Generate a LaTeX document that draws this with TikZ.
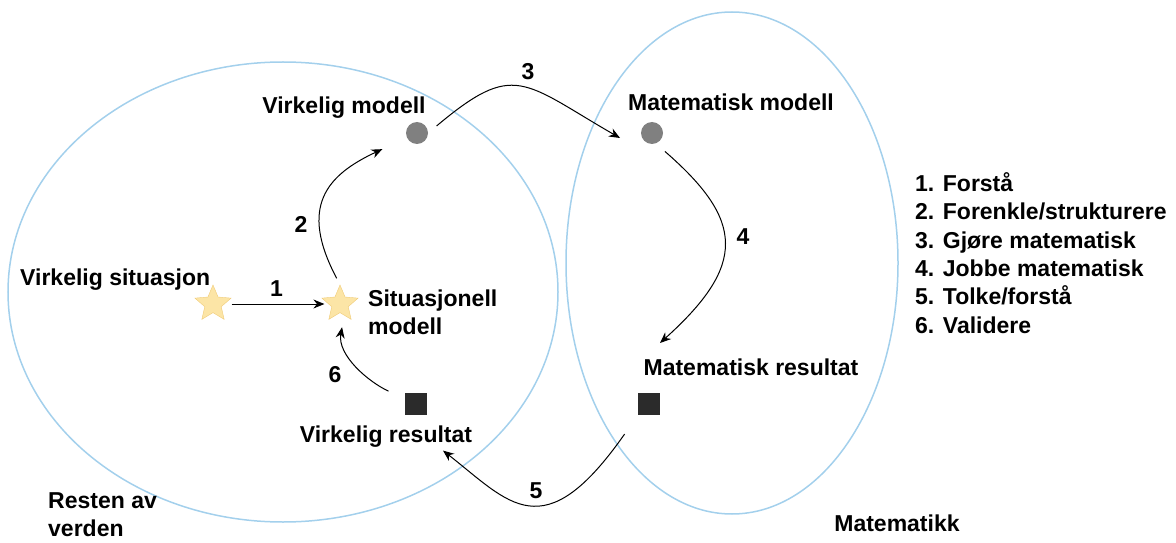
\documentclass[tikz,border=0pt]{standalone}
\usepackage{fontspec}
\setmainfont{Liberation Sans}
\usetikzlibrary{shapes.geometric,arrows.meta}

\definecolor{ringblue}{HTML}{A3D0EC}
\definecolor{starfill}{HTML}{FCE5A6}
\definecolor{stardraw}{HTML}{F0CB77}
\definecolor{dotgray}{HTML}{808080}
\definecolor{boxdark}{HTML}{2B2B2B}

\begin{document}
\begin{tikzpicture}[x=1pt,y=1pt,font=\fontsize{23}{28.3}\selectfont\bfseries,
    ring/.style={draw=ringblue,line width=1.5pt},
    stern/.style={star,star points=5,star point ratio=2.2,minimum size=38pt,inner sep=0pt,fill=starfill,draw=stardraw},
    prikk/.style={circle,fill=dotgray,minimum size=22pt,inner sep=0pt},
    boks/.style={rectangle,fill=boxdark,minimum size=22pt,inner sep=0pt},
    lbl/.style={inner sep=2pt},
    pil/.style={line width=1pt,-{Stealth[length=11pt,width=9pt]}}]
      \useasboundingbox (0,0) rectangle (1176,542);
      % the two worlds
      \draw[ring] (283,250) ellipse [x radius=275,y radius=230];
      \draw[ring] (732,279) ellipse [x radius=166,y radius=251];
      % markers
      \node[stern] (s1) at (213,238) {};
      \node[stern] (s2) at (340,238) {};
      \node[prikk] (c1) at (417,409) {};
      \node[prikk] (c2) at (652,409) {};
      \node[boks] (q1) at (416,138) {};
      \node[boks] (q2) at (649,138) {};
      % labels
      \node[lbl] (vmod) at (344,434) {Virkelig modell};
      \node[lbl] (mmod) at (731,440) {Matematisk modell};
      \node[lbl,anchor=west] (vsit) at (18,262) {Virkelig situasjon};
      \node[lbl,anchor=west,align=left] (smod) at (366,230) {Situasjonell\\modell};
      \node[lbl] (mres) at (751,175) {Matematisk resultat};
      \node[lbl] (vres) at (386,105) {Virkelig resultat};
      \node[lbl,anchor=west,align=left] (rest) at (46,27) {Resten av\\verden};
      \node[lbl] (mat) at (897,19) {Matematikk};
      \node[lbl,anchor=west,align=left] (liste) at (913,289)
        {1. Forstå\\2. Forenkle/strukturere\\3. Gjøre matematisk\\4. Jobbe matematisk\\5. Tolke/forstå\\6. Validere};
      % free ends of the arrows
      \coordinate (e3) at (620,404);
      \coordinate (e4) at (660,199);
      % the cycle
      \draw[pil,shorten <=7pt,shorten >=4pt] (s1) -- node[above=4pt]{1} (s2);
      \draw[pil,shorten <=7pt,shorten >=27pt] (s2.north) to[out=118,in=205,looseness=1.4] (c1.205);
      \draw[pil,shorten <=11pt] (c1.east) to[out=40,in=150,looseness=1.5] (e3);
      \draw[pil,shorten <=12pt] (c2.-70) to[out=-41,in=42,looseness=1.5] (e4);
      \draw[pil,shorten <=23pt,shorten >=1pt] (q2.south west) .. controls +(-125:165) and +(-38:85) .. (vres.-13);
      \draw[pil,shorten <=18pt,shorten >=12pt] (q1) to[out=155,in=-100] (s2.-70);
      % step numbers
      \node (n2) at (301,318) {2};
      \node (n3) at (528,470) {3};
      \node (n4) at (743,305) {4};
      \node (n5) at (536,51) {5};
      \node (n6) at (335,167) {6};
\end{tikzpicture}
\end{document}
